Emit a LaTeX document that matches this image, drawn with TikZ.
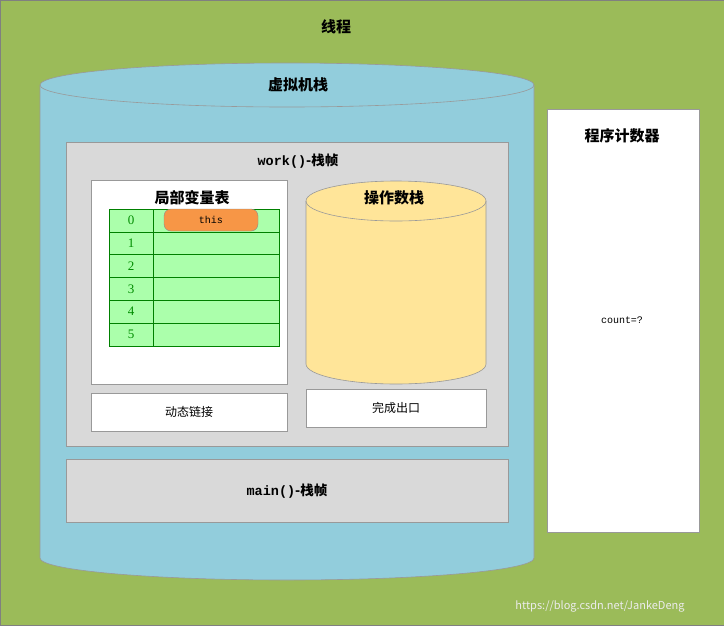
\documentclass[tikz,border=0pt]{standalone}
\usepackage{fontspec}
\setmainfont{Noto Sans CJK SC}
\newfontfamily\monof{Liberation Mono}
\newfontfamily\serf{Liberation Serif}
\begin{document}
\begin{tikzpicture}[x=1pt,y=-1pt,
  box/.style={draw=black!40,line width=0.6pt},
  cell/.style={draw=green!50!black,fill=green!33!white,line width=0.6pt},
  lab/.style={font=\bfseries\fontsize{15}{16}\selectfont},
  num/.style={text=green!55!black,font=\serf\fontsize{13}{14}\selectfont}]
\useasboundingbox (0,0) rectangle (724,625);
\fill[fill={rgb,255:red,155;green,187;blue,89},draw=black!50] (0,0) rectangle (724,625);
\node[lab] (t) at (336,27) {线程};
% JVM stack cylinder
\path[box,fill={rgb,255:red,146;green,205;blue,220}] (40,85) -- (40,558) arc[start angle=180,end angle=0,x radius=247,y radius=22] -- (534,85) arc[start angle=0,end angle=-180,x radius=247,y radius=22] -- cycle;
\draw[black!40,line width=0.6pt] (40,85) arc[start angle=180,end angle=0,x radius=247,y radius=22];
\node[lab] (vs) at (298,85) {虚拟机栈};
% work frame
\draw[box,fill={rgb,255:red,217;green,217;blue,217}] (66,142) rectangle (508,446);
\node[font=\fontsize{13.5}{15}\selectfont] (wf) at (298,161) {\textbf{\monof work()}\textbf{-栈帧}};
\draw[box,fill=white] (91,180) rectangle (287,384);
\node[lab] (lv) at (192,198) {局部变量表};
\foreach \i in {0,...,5}{
  \draw[cell] (109,{209+\i*22.8}) rectangle (153,{209+(\i+1)*22.8});
  \draw[cell] (153,{209+\i*22.8}) rectangle (279,{209+(\i+1)*22.8});
  \node[num] (n\i) at (131,{220.4+\i*22.8}) {\i};
}
\node[draw=black!45,fill={rgb,255:red,247;green,150;blue,70},rounded corners=7pt,minimum width=94pt,minimum height=22pt,font=\monof\fontsize{10}{11}\selectfont] (this) at (211,220) {this};
% operand stack
\path[box,fill={rgb,255:red,255;green,229;blue,153}] (306,201) -- (306,364) arc[start angle=180,end angle=0,x radius=90,y radius=20] -- (486,201) arc[start angle=0,end angle=-180,x radius=90,y radius=20] -- cycle;
\draw[black!40,line width=0.6pt] (306,201) arc[start angle=180,end angle=0,x radius=90,y radius=20];
\node[lab] (os) at (394,198) {操作数栈};
\draw[box,fill=white] (91,393) rectangle (287,431);
\node[font=\fontsize{12}{13}\selectfont] (dl) at (189,412) {动态链接};
\draw[box,fill=white] (306,389) rectangle (486,427);
\node[font=\fontsize{12}{13}\selectfont] (ce) at (396,408) {完成出口};
% main frame
\draw[box,fill={rgb,255:red,217;green,217;blue,217}] (66,459) rectangle (508,522);
\node[font=\fontsize{13.5}{15}\selectfont] (mf) at (287,491) {\textbf{\monof main()}\textbf{-栈帧}};
% PC
\draw[box,fill=white] (547,109) rectangle (699,532);
\node[lab] (pc) at (622,136) {程序计数器};
\node[font=\monof\fontsize{10}{11}\selectfont] (cnt) at (622,320) {count=?};
\node[text=white!85!gray,font=\fontsize{11}{12}\selectfont] (wm) at (600,606) {https://blog.csdn.net/JankeDeng};
\end{tikzpicture}
\end{document}
